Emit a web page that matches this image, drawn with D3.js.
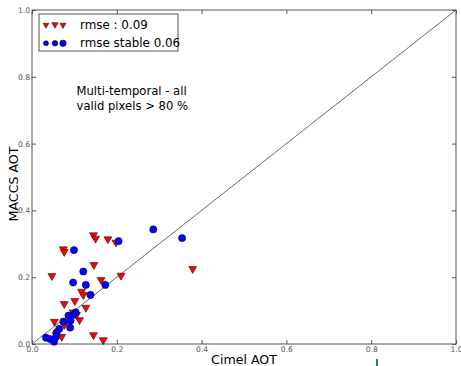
<!DOCTYPE html><html><head><meta charset="utf-8">
<script src="https://cdn.jsdelivr.net/npm/d3@7/dist/d3.min.js"></script>
<style>
  body { margin: 0; background: #fff; }
  text { font-family: "DejaVu Sans", sans-serif; }
</style>
</head>
<body><svg id="chart"></svg>
<script>

// all pixels (red triangles), rmse 0.09
var allX = [0.145, 0.150, 0.179, 0.198, 0.074, 0.076, 0.146, 0.047, 0.163, 0.210, 0.117, 0.121, 0.076,
            0.101, 0.127, 0.097, 0.053, 0.112, 0.076, 0.145, 0.070, 0.168, 0.057, 0.105, 0.379];
var allY = [0.326, 0.316, 0.314, 0.304, 0.284, 0.276, 0.237, 0.204, 0.192, 0.205, 0.157, 0.147, 0.120,
            0.129, 0.109, 0.095, 0.067, 0.072, 0.057, 0.027, 0.022, 0.012, 0.027, 0.087, 0.225];

// stable pixels (blue circles), rmse 0.06
var stableX = [0.204, 0.099, 0.121, 0.097, 0.127, 0.173, 0.138, 0.103, 0.097, 0.086, 0.091,
               0.074, 0.090, 0.064, 0.058, 0.057, 0.033, 0.043, 0.052, 0.286, 0.354];
var stableY = [0.308, 0.281, 0.217, 0.184, 0.177, 0.177, 0.147, 0.095, 0.087, 0.085, 0.070,
               0.067, 0.049, 0.045, 0.035, 0.022, 0.019, 0.015, 0.007, 0.343, 0.317];

var ticks = [0.0, 0.2, 0.4, 0.6, 0.8, 1.0];
var legendLabels = ["rmse : 0.09", "rmse stable 0.06"];
var note = ["Multi-temporal - all", "valid pixels > 80 %"];

var width = 461, height = 366;
var pL = 32, pR = 456, pT = 10, pB = 344;
var frameColor = "#555";

var svg = d3.select("#chart")
    .attr("width", width)
    .attr("height", height);

var x = d3.scaleLinear().domain([0, 1]).range([pL, pR]);
var y = d3.scaleLinear().domain([0, 1]).range([pB, pT]);

// axes, ticks pointing inward like matplotlib classic
function styleAxis(g) {
  g.select(".domain").remove();
  g.selectAll("line").attr("stroke", frameColor);
  g.selectAll("text")
    .attr("fill", "#555")
    .style("font-size", "7.6px");
}

svg.append("g")
    .attr("transform", "translate(0," + pB + ")")
    .call(d3.axisBottom(x).tickValues(ticks).tickFormat(d3.format(".1f"))
      .tickSizeInner(-4).tickSizeOuter(0).tickPadding(3))
    .call(styleAxis);

svg.append("g")
    .attr("transform", "translate(" + pL + ",0)")
    .call(d3.axisLeft(y).tickValues(ticks).tickFormat(d3.format(".1f"))
      .tickSizeInner(-4).tickSizeOuter(0).tickPadding(2))
    .call(styleAxis);

svg.append("g")
    .attr("transform", "translate(0," + pT + ")")
    .call(d3.axisTop(x).tickValues(ticks).tickFormat("").tickSizeInner(-4).tickSizeOuter(0))
    .call(styleAxis);

svg.append("g")
    .attr("transform", "translate(" + pR + ",0)")
    .call(d3.axisRight(y).tickValues(ticks).tickFormat("").tickSizeInner(-4).tickSizeOuter(0))
    .call(styleAxis);

svg.append("rect")
    .attr("x", pL).attr("y", pT)
    .attr("width", pR - pL).attr("height", pB - pT)
    .attr("fill", "none")
    .attr("stroke", frameColor)
    .attr("stroke-width", 1);

// 1:1 line
svg.append("line")
    .attr("x1", x(0)).attr("y1", y(0))
    .attr("x2", x(1)).attr("y2", y(1))
    .attr("stroke", "#444")
    .attr("stroke-width", 0.8);

var tri = d3.symbol().type(d3.symbolTriangle).size(28);

function triangle(sel, cx, cy, s) {
  sel.append("path")
    .attr("d", d3.symbol().type(d3.symbolTriangle).size(s)())
    .attr("transform", "translate(" + cx + "," + cy + ") rotate(180)")
    .attr("fill", "#ff0000")
    .attr("stroke", "#000")
    .attr("stroke-width", 0.5);
}

svg.append("g").selectAll("path")
  .data(d3.range(allX.length))
  .enter().append("path")
    .attr("d", tri())
    .attr("transform", function(i) { return "translate(" + x(allX[i]) + "," + y(allY[i]) + ") rotate(180)"; })
    .attr("fill", "#ff0000")
    .attr("stroke", "#000")
    .attr("stroke-width", 0.5);

svg.append("g").selectAll("circle")
  .data(d3.range(stableX.length))
  .enter().append("circle")
    .attr("cx", function(i) { return x(stableX[i]); })
    .attr("cy", function(i) { return y(stableY[i]); })
    .attr("r", 3.6)
    .attr("fill", "#0000ff")
    .attr("stroke", "#000")
    .attr("stroke-width", 0.5);

// legend
var lg = svg.append("g");
lg.append("rect")
    .attr("x", 39).attr("y", 14)
    .attr("width", 139).attr("height", 37)
    .attr("fill", "#fff")
    .attr("stroke", "#555")
    .attr("stroke-width", 1);

triangle(lg, 46, 25, 14);
triangle(lg, 55, 24.5, 18);
triangle(lg, 63, 25, 16);

[[46, 2.5], [55, 2.8], [63, 3.2]].forEach(function(c) {
  lg.append("circle")
    .attr("cx", c[0]).attr("cy", 43.3).attr("r", c[1])
    .attr("fill", "#0000ff")
    .attr("stroke", "#000")
    .attr("stroke-width", 0.5);
});

lg.selectAll(".lgtext")
  .data(legendLabels)
  .enter().append("text")
    .attr("x", 80)
    .attr("y", function(d, i) { return 29.3 + i * 17.6; })
    .style("font-size", "11.9px")
    .attr("fill", "#000")
    .text(function(d) { return d; });

// annotation
svg.selectAll(".note")
  .data(note)
  .enter().append("text")
    .attr("x", x(0.105))
    .attr("y", function(d, i) { return 95 + i * 15; })
    .style("font-size", "11.6px")
    .attr("fill", "#000")
    .text(function(d) { return d; });

// axis labels
svg.append("text")
    .attr("x", (pL + pR) / 2)
    .attr("y", 364)
    .attr("text-anchor", "middle")
    .style("font-size", "12.6px")
    .text("Cimel AOT");

svg.append("text")
    .attr("transform", "translate(18,184) rotate(-90)")
    .attr("text-anchor", "middle")
    .style("font-size", "12.6px")
    .text("MACCS AOT");

// stray mark below the x axis
svg.append("rect")
    .attr("x", 376).attr("y", 359)
    .attr("width", 2).attr("height", 7)
    .attr("fill", "#2f6db5");

</script>
</body></html>
